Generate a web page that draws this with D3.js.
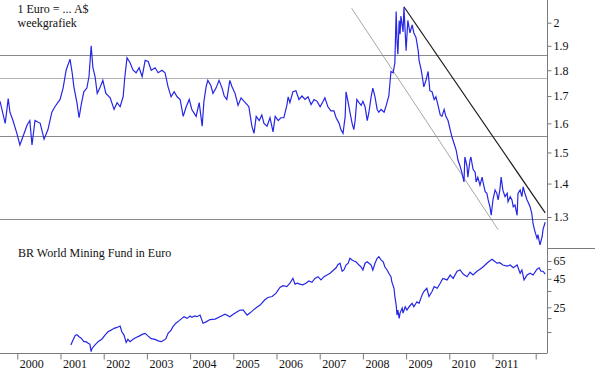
<!DOCTYPE html>
<html>
<head>
<meta charset="utf-8">
<script src="https://cdn.jsdelivr.net/npm/d3@7"></script>
<style>
  html, body { margin: 0; padding: 0; background: #fff; }
</style>
</head>
<body>
<div id="chart"></div>
<script>
// 1 Euro in A$, weekly (decimal year, rate)
const eurAudDates = [
  1999.60, 1999.72, 1999.79, 1999.83, 1999.90, 1999.99, 2000.06, 2000.13, 2000.23, 2000.29,
  2000.34, 2000.41, 2000.53, 2000.62, 2000.71, 2000.80, 2000.87, 2000.99, 2001.06, 2001.13,
  2001.22, 2001.27, 2001.31, 2001.38, 2001.43, 2001.48, 2001.54, 2001.61, 2001.66, 2001.71,
  2001.75, 2001.80, 2001.85, 2001.91, 2001.98, 2002.05, 2002.15, 2002.24, 2002.31, 2002.38,
  2002.45, 2002.49, 2002.54, 2002.61, 2002.68, 2002.75, 2002.82, 2002.89, 2002.96, 2003.03,
  2003.10, 2003.19, 2003.26, 2003.35, 2003.42, 2003.49, 2003.56, 2003.63, 2003.70, 2003.77,
  2003.84, 2003.91, 2003.98, 2004.04, 2004.14, 2004.21, 2004.28, 2004.32, 2004.37, 2004.41,
  2004.48, 2004.53, 2004.60, 2004.67, 2004.74, 2004.79, 2004.85, 2004.92, 2004.97, 2005.04,
  2005.11, 2005.18, 2005.25, 2005.32, 2005.36, 2005.43, 2005.48, 2005.53, 2005.60, 2005.66,
  2005.71, 2005.78, 2005.85, 2005.92, 2005.97, 2006.04, 2006.10, 2006.17, 2006.24, 2006.27,
  2006.31, 2006.38, 2006.45, 2006.52, 2006.59, 2006.66, 2006.73, 2006.80, 2006.87, 2006.94,
  2007.01, 2007.08, 2007.12, 2007.19, 2007.26, 2007.33, 2007.38, 2007.45, 2007.49, 2007.54,
  2007.59, 2007.61, 2007.66, 2007.70, 2007.75, 2007.79, 2007.82, 2007.86, 2007.91, 2007.96,
  2008.00, 2008.05, 2008.10, 2008.14, 2008.19, 2008.23, 2008.28, 2008.33, 2008.37, 2008.42,
  2008.49, 2008.54, 2008.60, 2008.65, 2008.70, 2008.74, 2008.77, 2008.79, 2008.81, 2008.84,
  2008.86, 2008.88, 2008.93, 2008.95, 2009.00, 2009.04, 2009.09, 2009.14, 2009.18, 2009.23,
  2009.28, 2009.30, 2009.35, 2009.37, 2009.41, 2009.46, 2009.51, 2009.55, 2009.60, 2009.65,
  2009.69, 2009.74, 2009.79, 2009.83, 2009.88, 2009.92, 2009.97, 2010.02, 2010.06, 2010.11,
  2010.16, 2010.20, 2010.25, 2010.29, 2010.34, 2010.36, 2010.41, 2010.43, 2010.48, 2010.50,
  2010.55, 2010.60, 2010.62, 2010.66, 2010.71, 2010.76, 2010.78, 2010.83, 2010.87, 2010.90,
  2010.94, 2010.97, 2011.01, 2011.06, 2011.10, 2011.13, 2011.17, 2011.20, 2011.24, 2011.29,
  2011.34, 2011.36, 2011.41, 2011.45, 2011.48, 2011.52, 2011.57, 2011.59, 2011.64, 2011.68,
  2011.71, 2011.75, 2011.80, 2011.82, 2011.87, 2011.91, 2011.94, 2011.98, 2012.03, 2012.05,
  2012.10, 2012.15, 2012.17, 2012.22
];
const eurAudValues = [
  1.68, 1.60, 1.69, 1.64, 1.61, 1.565, 1.525, 1.553, 1.595, 1.61,
  1.525, 1.61, 1.60, 1.545, 1.578, 1.64, 1.66, 1.687, 1.73, 1.80,
  1.845, 1.79, 1.735, 1.675, 1.62, 1.668, 1.716, 1.73, 1.775, 1.90,
  1.81, 1.775, 1.71, 1.73, 1.76, 1.71, 1.693, 1.65, 1.675, 1.66,
  1.697, 1.775, 1.85, 1.83, 1.80, 1.79, 1.81, 1.775, 1.84, 1.835,
  1.80, 1.81, 1.79, 1.80, 1.79, 1.735, 1.697, 1.716, 1.697, 1.687,
  1.625, 1.66, 1.687, 1.65, 1.625, 1.675, 1.59, 1.68, 1.735, 1.76,
  1.74, 1.71, 1.73, 1.76, 1.73, 1.70, 1.687, 1.76, 1.735, 1.71,
  1.665, 1.693, 1.68, 1.668, 1.66, 1.59, 1.565, 1.625, 1.61, 1.63,
  1.60, 1.59, 1.62, 1.57, 1.625, 1.61, 1.62, 1.62, 1.665, 1.697,
  1.675, 1.716, 1.72, 1.687, 1.70, 1.687, 1.697, 1.668, 1.687, 1.68,
  1.66, 1.68, 1.693, 1.66, 1.645, 1.645, 1.62, 1.60, 1.578, 1.565,
  1.625, 1.716, 1.675, 1.64, 1.60, 1.578, 1.61, 1.687, 1.675, 1.665,
  1.68, 1.66, 1.61, 1.64, 1.697, 1.73, 1.697, 1.65, 1.64, 1.65,
  1.64, 1.665, 1.70, 1.795, 1.79, 1.83, 2.05, 1.92, 1.865, 2.01,
  1.95, 2.03, 1.96, 2.07, 1.88, 2.01, 1.955, 1.99, 1.955, 1.935,
  1.88, 1.84, 1.80, 1.78, 1.735, 1.76, 1.795, 1.72, 1.716, 1.687,
  1.697, 1.665, 1.63, 1.625, 1.65, 1.625, 1.61, 1.578, 1.553, 1.53,
  1.507, 1.475, 1.455, 1.435, 1.405, 1.485, 1.455, 1.42, 1.475, 1.485,
  1.445, 1.435, 1.405, 1.42, 1.395, 1.42, 1.405, 1.375, 1.37, 1.35,
  1.33, 1.305, 1.35, 1.38, 1.37, 1.35, 1.38, 1.42, 1.38, 1.36,
  1.37, 1.345, 1.36, 1.35, 1.33, 1.335, 1.305, 1.37, 1.38, 1.36,
  1.39, 1.37, 1.35, 1.345, 1.33, 1.31, 1.28, 1.26, 1.24, 1.25,
  1.222, 1.245, 1.265, 1.285
];

// BR World Mining Fund in Euro, weekly (decimal year, price)
const fundDates = [
  2001.24, 2001.29, 2001.34, 2001.38, 2001.43, 2001.48, 2001.54, 2001.59, 2001.64, 2001.68,
  2001.71, 2001.73, 2001.80, 2001.87, 2001.96, 2002.03, 2002.10, 2002.17, 2002.24, 2002.31,
  2002.38, 2002.42, 2002.47, 2002.52, 2002.56, 2002.61, 2002.68, 2002.75, 2002.82, 2002.89,
  2002.96, 2003.03, 2003.10, 2003.19, 2003.26, 2003.33, 2003.40, 2003.44, 2003.49, 2003.56,
  2003.60, 2003.67, 2003.74, 2003.81, 2003.86, 2003.93, 2004.00, 2004.04, 2004.11, 2004.16,
  2004.23, 2004.30, 2004.37, 2004.46, 2004.58, 2004.69, 2004.81, 2004.92, 2004.99, 2005.09,
  2005.16, 2005.23, 2005.32, 2005.39, 2005.46, 2005.53, 2005.62, 2005.73, 2005.80, 2005.90,
  2005.99, 2006.08, 2006.15, 2006.24, 2006.31, 2006.38, 2006.43, 2006.48, 2006.54, 2006.61,
  2006.68, 2006.75, 2006.82, 2006.89, 2006.96, 2007.03, 2007.10, 2007.17, 2007.24, 2007.31,
  2007.38, 2007.42, 2007.47, 2007.52, 2007.56, 2007.61, 2007.66, 2007.70, 2007.75, 2007.79,
  2007.84, 2007.91, 2007.96, 2008.00, 2008.05, 2008.10, 2008.14, 2008.19, 2008.23, 2008.28,
  2008.33, 2008.37, 2008.42, 2008.47, 2008.51, 2008.56, 2008.60, 2008.65, 2008.67, 2008.72,
  2008.74, 2008.77, 2008.79, 2008.81, 2008.84, 2008.86, 2008.91, 2008.93, 2008.98, 2009.02,
  2009.07, 2009.14, 2009.18, 2009.25, 2009.30, 2009.37, 2009.41, 2009.48, 2009.53, 2009.60,
  2009.65, 2009.72, 2009.79, 2009.85, 2009.95, 2010.02, 2010.09, 2010.18, 2010.25, 2010.32,
  2010.41, 2010.48, 2010.55, 2010.64, 2010.71, 2010.78, 2010.87, 2010.94, 2010.99, 2011.06,
  2011.10, 2011.17, 2011.24, 2011.34, 2011.41, 2011.48, 2011.57, 2011.64, 2011.68, 2011.73,
  2011.80, 2011.87, 2011.94, 2012.03, 2012.08, 2012.12, 2012.17, 2012.22
];
const fundValues = [
  11.5, 12.7, 14.0, 14.2, 13.6, 13.2, 12.3, 12.3, 11.9, 11.7,
  10.0, 10.7, 11.5, 12.3, 13.0, 14.1, 15.1, 15.6, 16.2, 16.5,
  17.0, 15.1, 14.1, 12.1, 12.9, 12.3, 12.9, 13.4, 13.8, 14.3,
  14.6, 13.8, 13.1, 12.9, 12.5, 12.3, 12.7, 13.1, 14.6, 15.6,
  16.7, 18.0, 18.9, 19.9, 20.6, 19.9, 20.9, 20.3, 20.9, 20.6,
  21.3, 18.0, 18.5, 19.4, 19.6, 20.6, 21.7, 20.6, 21.5, 22.8,
  23.6, 23.6, 21.3, 22.3, 23.6, 24.8, 26.2, 29.2, 30.6, 31.2,
  33.5, 37.6, 39.1, 38.3, 41.1, 45.4, 40.3, 41.1, 40.3, 39.7,
  41.1, 43.0, 41.9, 45.4, 47.0, 44.0, 47.0, 48.7, 50.5, 53.4,
  56.5, 60.3, 62.1, 52.6, 54.0, 59.8, 62.1, 68.7, 66.4, 65.0,
  64.0, 59.8, 57.4, 54.0, 62.1, 64.0, 62.1, 59.8, 54.0, 62.1,
  68.7, 71.0, 66.4, 64.0, 57.4, 54.0, 50.5, 47.0, 42.3, 37.0,
  31.2, 26.2, 21.3, 23.6, 19.9, 22.2, 24.6, 22.2, 25.3, 23.6,
  25.3, 27.1, 25.3, 28.0, 27.1, 32.3, 34.6, 37.0, 31.2, 34.6,
  38.3, 37.0, 41.1, 45.4, 44.0, 48.7, 45.4, 52.6, 54.0, 49.6,
  47.0, 51.6, 48.7, 52.6, 54.9, 57.4, 62.1, 65.4, 67.3, 64.1,
  62.1, 62.8, 59.8, 58.6, 59.8, 56.5, 59.8, 50.5, 54.0, 44.0,
  48.7, 50.5, 48.7, 54.9, 56.5, 52.6, 52.6, 49.6
];

const years = [2000, 2001, 2002, 2003, 2004, 2005, 2006, 2007, 2008, 2009, 2010, 2011, 2012];
const rateTicks = [1.3, 1.4, 1.5, 1.6, 1.7, 1.8, 1.9, 2];
const fundTicks = [15, 20, 25, 35, 45, 55, 65];
const fundTickLabels = [25, 45, 65];
const levelLines = [1.86, 1.771, 1.557, 1.293];
// trend lines: [[date, rate], [date, rate]]
const resistanceLine = [[2008.95, 2.072], [2012.22, 1.312]];
const channelLine = [[2007.74, 2.065], [2011.13, 1.264]];

const width = 595, height = 372;
const axisX = 547, upperBottom = 248.5, baseY = 353.5;
const serif = "'Liberation Serif', 'Times New Roman', 'DejaVu Serif', serif";

const svg = d3.select("#chart").append("svg")
  .attr("width", width)
  .attr("height", height)
  .attr("font-family", serif);

const x = d3.scaleLinear().domain([2000, 2012]).range([17.3, 535.7]);
const yRate = d3.scaleLog().domain([1.3, 2]).range([217, 22.7]);
const yFund = d3.scaleLog().domain([25, 65]).range([307.3, 261]);

svg.append("defs").append("clipPath").attr("id", "upper-clip")
  .append("rect").attr("x", 0).attr("y", 0).attr("width", axisX).attr("height", upperBottom);

// level lines
svg.append("g")
  .selectAll("line")
  .data(levelLines)
  .join("line")
  .attr("x1", 0)
  .attr("x2", axisX)
  .attr("y1", (d) => Math.round(yRate(d)) + 0.5)
  .attr("y2", (d) => Math.round(yRate(d)) + 0.5)
  .attr("stroke", (d, i) => i === 1 ? "#b4b4b4" : "#8a8a8a")
  .attr("stroke-width", 1);

// trend lines
const trend = d3.line().x((d) => x(d[0])).y((d) => yRate(d[1]));
svg.append("path")
  .attr("d", trend(channelLine))
  .attr("fill", "none")
  .attr("stroke", "#909090")
  .attr("stroke-width", 0.8);
svg.append("path")
  .attr("d", trend(resistanceLine))
  .attr("fill", "none")
  .attr("stroke", "#1a1a1a")
  .attr("stroke-width", 1.2);

// euro / A$ series
const rateRows = eurAudDates.map((d, i) => [d, eurAudValues[i]]);
svg.append("path")
  .attr("clip-path", "url(#upper-clip)")
  .attr("d", d3.line().x((d) => x(d[0])).y((d) => yRate(d[1]))(rateRows))
  .attr("fill", "none")
  .attr("stroke", "#2626e6")
  .attr("stroke-width", 1.2);

// fund series
const fundRows = fundDates.map((d, i) => [d, fundValues[i]]);
svg.append("path")
  .attr("d", d3.line().x((d) => x(d[0])).y((d) => yFund(d[1]))(fundRows))
  .attr("fill", "none")
  .attr("stroke", "#2626e6")
  .attr("stroke-width", 1.2);

// frame: right axis, panel divider, bottom axis
svg.append("line")
  .attr("x1", axisX + 0.5).attr("x2", axisX + 0.5)
  .attr("y1", 0).attr("y2", baseY)
  .attr("stroke", "#7a7a7a");
svg.append("line")
  .attr("x1", axisX).attr("x2", width)
  .attr("y1", upperBottom).attr("y2", upperBottom)
  .attr("stroke", "#7a7a7a");

const styleAxis = (g) => {
  g.attr("font-family", serif).attr("font-size", 12);
  g.select(".domain").remove();
  g.selectAll(".tick line").attr("stroke", "#7a7a7a");
  g.selectAll(".tick text")
    .attr("fill", "#111")
    .attr("font-family", serif);
};

svg.append("g")
  .attr("transform", `translate(${axisX + 0.5},0)`)
  .call(d3.axisRight(yRate).tickValues(rateTicks).tickSize(4).tickPadding(2).tickFormat((d) => d))
  .call(styleAxis);

svg.append("g")
  .attr("transform", `translate(${axisX + 0.5},0)`)
  .call(d3.axisRight(yFund).tickValues(fundTicks).tickSize(4).tickPadding(2)
    .tickFormat((d) => fundTickLabels.includes(d) ? d : ""))
  .call(styleAxis);

const xAxis = svg.append("g")
  .attr("transform", `translate(0,${baseY})`)
  .call(d3.axisBottom(x).tickValues(years).tickSize(6).tickFormat((d) => d < 2012 ? d : ""))
  .call(styleAxis);
xAxis.selectAll(".tick text")
  .attr("text-anchor", "start")
  .attr("x", 2)
  .attr("y", 6);
svg.append("line")
  .attr("x1", 0).attr("x2", axisX)
  .attr("y1", baseY).attr("y2", baseY)
  .attr("stroke", "#7a7a7a");

// titles
const title = (txt, tx, ty) => svg.append("text")
  .attr("x", tx).attr("y", ty)
  .attr("fill", "#111")
  .attr("font-family", serif)
  .attr("font-size", 12)
  .text(txt);
title("1 Euro = ... A$", 17.5, 13);
title("weekgrafiek", 17.5, 27);
title("BR World Mining Fund in Euro", 18, 257);
</script>
</body>
</html>
